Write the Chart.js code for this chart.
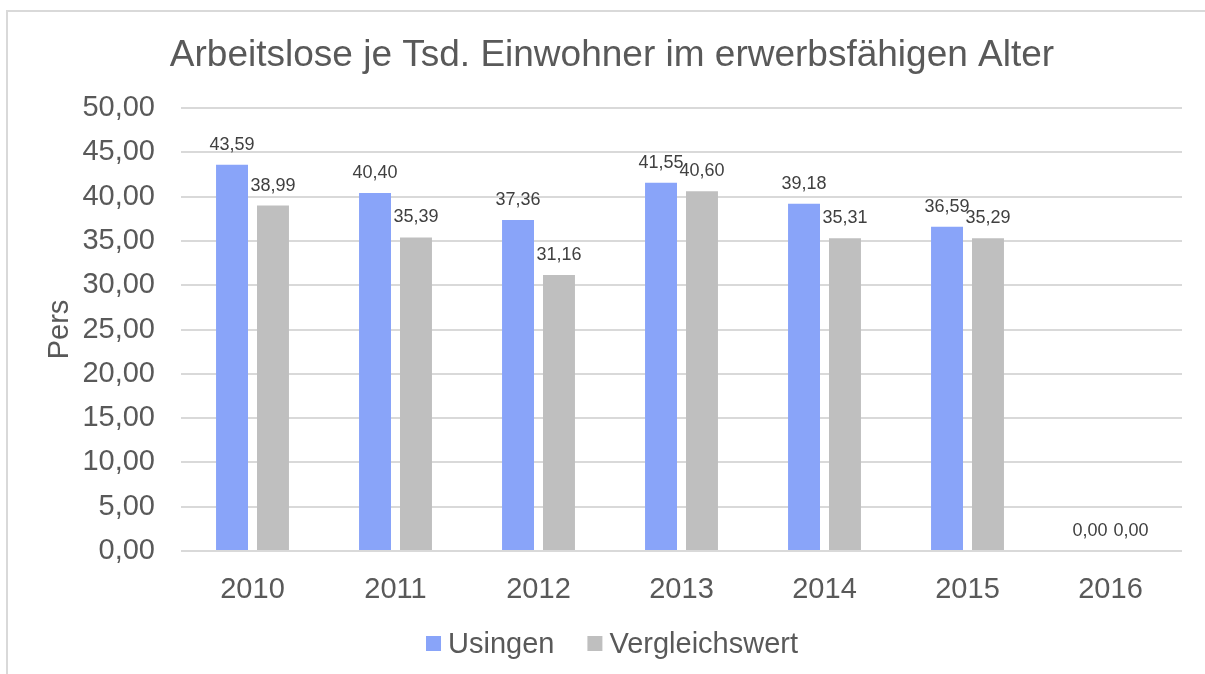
<!DOCTYPE html>
<html lang="de">
<head>
<meta charset="utf-8">
<title>Arbeitslose je Tsd. Einwohner</title>
<script src="https://cdn.jsdelivr.net/npm/chart.js@4/dist/chart.umd.min.js"></script>
<style>
  html, body { margin: 0; padding: 0; background: #ffffff; }
  #chart { display: block; }
</style>
</head>
<body>
<canvas id="chart" width="1205" height="674"></canvas>
<script>
(function () {
  "use strict";

  const chartTitle = "Arbeitslose je Tsd. Einwohner im erwerbsfähigen Alter";
  const years = ["2010", "2011", "2012", "2013", "2014", "2015", "2016"];
  const usingen = [43.59, 40.40, 37.36, 41.55, 39.18, 36.59, 0.00];
  const vergleichswert = [38.99, 35.39, 31.16, 40.60, 35.31, 35.29, 0.00];
  const seriesNames = ["Usingen", "Vergleichswert"];

  const fontFamily = "'Liberation Sans', Arial, sans-serif";
  const textColor = "#595959";
  const gridColor = "#d9d9d9";
  // middle of the chart box (the frame runs on past the right edge)
  const boxCenterX = 612;

  // german number format, two decimals
  function deNum(v) {
    return v.toFixed(2).replace(".", ",");
  }

  // light frame round the whole chart, plus the title
  const frame = {
    id: "frame",
    beforeDraw(chart) {
      const ctx = chart.ctx;
      ctx.save();
      ctx.strokeStyle = "#d9d9d9";
      ctx.lineWidth = 2;
      ctx.strokeRect(7, 11, 1400, 1000);

      ctx.font = "37px " + fontFamily;
      ctx.fillStyle = textColor;
      ctx.textAlign = "center";
      ctx.textBaseline = "alphabetic";
      ctx.fillText(chartTitle, boxCenterX, 66);
      ctx.restore();
    },
  };

  // value labels above each bar
  const valueLabels = {
    id: "valueLabels",
    afterDatasetsDraw(chart) {
      const ctx = chart.ctx;
      ctx.save();
      ctx.font = "18px " + fontFamily;
      ctx.fillStyle = "#404040";
      ctx.textAlign = "center";
      ctx.textBaseline = "alphabetic";
      chart.data.datasets.forEach((ds, i) => {
        const meta = chart.getDatasetMeta(i);
        meta.data.forEach((bar, j) => {
          ctx.fillText(deNum(ds.data[j]), bar.x, bar.y - 15);
        });
      });
      ctx.restore();
    },
  };

  // legend under the axis, boxes close to their text
  const bottomLegend = {
    id: "bottomLegend",
    afterDraw(chart) {
      const ctx = chart.ctx;
      const box = 15;
      const boxGap = 7;
      const itemGap = 33;
      const baseline = 653;
      ctx.save();
      ctx.font = "29px " + fontFamily;
      ctx.textBaseline = "alphabetic";
      ctx.textAlign = "left";
      const items = chart.data.datasets.map((ds) => ({
        text: ds.label,
        color: ds.backgroundColor,
        w: ctx.measureText(ds.label).width,
      }));
      let total = 0;
      items.forEach((it, i) => {
        total += box + boxGap + it.w + (i > 0 ? itemGap : 0);
      });
      let x = boxCenterX - total / 2;
      items.forEach((it) => {
        ctx.fillStyle = it.color;
        ctx.fillRect(x, baseline - 17, box, box);
        ctx.fillStyle = textColor;
        ctx.fillText(it.text, x + box + boxGap, baseline);
        x += box + boxGap + it.w + itemGap;
      });
      ctx.restore();
    },
  };

  const ctx = document.getElementById("chart").getContext("2d");
  const chart = new Chart(ctx, {
    type: "bar",
    data: {
      labels: years,
      datasets: [
        {
          label: seriesNames[0],
          data: usingen,
          backgroundColor: "#89a4f9",
        },
        {
          label: seriesNames[1],
          data: vergleichswert,
          backgroundColor: "#bfbfbf",
        },
      ],
    },
    options: {
      responsive: false,
      animation: false,
      devicePixelRatio: 1,
      categoryPercentage: 0.573,
      barPercentage: 0.78,
      layout: {
        padding: { left: 0, right: 23, top: 108, bottom: 63 },
      },
      font: { family: fontFamily },
      plugins: {
        title: { display: false },
        legend: { display: false },
        tooltip: { enabled: false },
      },
      scales: {
        x: {
          grid: { display: false },
          border: { display: false },
          ticks: {
            color: textColor,
            font: { size: 29 },
            padding: 14,
          },
          afterFit(scale) {
            scale.height = 60;
          },
        },
        y: {
          min: 0,
          max: 50,
          ticks: {
            stepSize: 5,
            color: textColor,
            font: { size: 29 },
            padding: 26,
            callback: (v) => deNum(v),
          },
          grid: {
            color: gridColor,
            lineWidth: 2,
            drawTicks: false,
          },
          border: { display: false },
          title: {
            display: true,
            text: "Pers",
            color: textColor,
            font: { size: 29 },
            padding: { top: 43, bottom: 0 },
          },
          afterFit(scale) {
            scale.width = 181;
          },
        },
      },
    },
    plugins: [frame, valueLabels, bottomLegend],
  });
})();
</script>
</body>
</html>
